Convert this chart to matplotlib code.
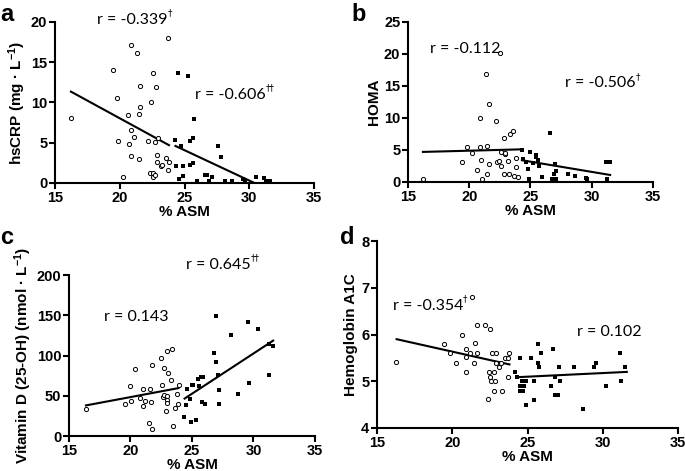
import matplotlib
matplotlib.use('Agg')
import matplotlib.pyplot as plt

plt.rcParams['font.family'] = ['Liberation Sans', 'DejaVu Sans']
plt.rcParams['mathtext.fontset'] = 'custom'
plt.rcParams['mathtext.rm'] = 'Liberation Sans:bold'
plt.rcParams['mathtext.it'] = 'Liberation Sans:bold'
plt.rcParams['mathtext.bf'] = 'Liberation Sans:bold'

# ---- panel a : hsCRP ----
a_circ_x = [16.23, 19.45, 19.8, 19.85, 20.27, 20.6, 20.7, 20.9, 20.9, 20.9, 21.07, 21.35,
            21.45, 21.5, 21.6, 21.6, 22.15, 22.3, 22.45, 22.6, 22.58, 22.6, 22.7, 22.76,
            22.8, 22.85, 22.9, 22.97, 23.15, 23.3, 23.56, 23.74, 23.74, 23.8]
a_circ_y = [8.1, 14.0, 10.6, 5.2, 0.75, 8.4, 4.8, 6.6, 17.1, 3.3, 5.7, 16.1,
            8.6, 3.0, 12.0, 9.4, 5.2, 1.3, 10.1, 13.7, 1.2, 0.7, 5.1, 1.0,
            11.9, 3.5, 2.6, 5.6, 2.1, 2.2, 3.1, 18.0, 1.6, 2.65]
a_sq_x = [24.49, 25.26, 24.3, 24.74, 25.77, 25.44, 25.67, 24.38, 24.92, 25.46, 25.67, 24.56,
          24.87, 25.95, 26.6, 26.75, 26.9, 27.1, 27.6, 27.78, 28.14, 28.68, 29.55, 29.65,
          30.55, 31.14, 31.32, 31.58]
a_sq_y = [13.66, 13.33, 5.34, 4.55, 7.95, 5.18, 5.55, 2.1, 2.1, 2.28, 2.5, 0.45,
          0.83, 0.3, 1.0, 1.0, 0.3, 0.75, 4.6, 3.27, 0.3, 0.3, 0.45, 0.3,
          0.7, 0.62, 0.3, 0.3]
a_fit_circ = ([16.23, 23.8], [11.35, 4.7])
a_fit_sq = ([24.3, 30.4], [4.6, 0.0])

# ---- panel b : HOMA ----
b_circ_x = [16.22, 19.44, 19.82, 20.25, 20.66, 20.85, 20.85, 20.93, 21.07, 21.34, 21.45, 21.48,
            21.6, 21.6, 22.16, 22.3, 22.45, 22.54, 22.62, 22.62, 22.84, 22.84, 22.9, 22.95,
            23.16, 23.25, 23.3, 23.57, 23.65, 23.8, 23.8, 23.98]
b_circ_y = [0.5, 3.2, 5.45, 4.6, 1.9, 10.06, 5.45, 3.37, 0.47, 16.8, 1.3, 5.6,
            12.2, 2.85, 9.6, 3.05, 3.3, 20.1, 4.7, 2.43, 6.9, 1.24, 4.4, 4.55,
            3.26, 1.24, 7.47, 8.04, 0.98, 3.78, 2.34, 0.72]
b_sq_x = [24.28, 24.93, 25.42, 25.48, 25.64, 24.39, 24.6, 25.2, 25.69, 24.83, 24.88, 25.92,
          26.57, 27.0, 27.11, 26.89, 26.73, 27.11, 28.09, 28.63, 29.5, 29.6, 31.2, 31.52, 31.25]
b_sq_y = [5.03, 4.72, 4.25, 3.89, 3.36, 3.58, 3.2, 2.96, 2.54, 2.02, 0.5, 0.72,
          7.63, 2.85, 1.65, 1.29, 0.47, 0.47, 1.18, 0.87, 0.62, 0.47, 3.05, 3.11, 0.47]
b_fit_circ = ([16.22, 24.2], [4.7, 5.1])
b_fit_sq = ([24.3, 31.5], [3.4, 1.1])

# ---- panel c : Vitamin D ----
c_circ_x = [16.38, 19.55, 19.96, 20.01, 20.37, 20.77, 20.99, 20.99, 21.18, 21.48, 21.59, 21.64,
            21.75, 21.75, 22.45, 22.59, 22.67, 22.72, 22.75, 22.89, 22.94, 22.94, 22.94, 23.02,
            23.0, 23.27, 23.37, 23.43, 23.62, 23.78, 23.86, 23.92]
c_circ_y = [33.6, 40.2, 62.2, 43.6, 83, 47.3, 58.5, 37.3, 43.6, 16.6, 58.5, 42.3,
            8.3, 88.4, 97.5, 63, 48.1, 51.5, 84.2, 31.5, 49.4, 44.8, 41, 78.4,
            105, 69.3, 108.7, 12.4, 35.3, 52.7, 39.4, 63.5]
c_sq_x = [24.59, 24.51, 24.38, 24.84, 24.95, 25.0, 25.05, 25.33, 25.49, 25.57, 25.76, 25.87,
          25.81, 26.03, 26.79, 26.92, 26.95, 27.14, 27.22, 27.22, 28.2, 28.77, 29.55, 29.63,
          30.34, 31.29, 31.29, 31.61]
c_sq_y = [58.1, 39, 23.2, 45.6, 17.4, 63.5, 63.9, 19.9, 70.5, 61.8, 73.9, 73.9,
          42.7, 40.2, 102.5, 92.1, 149.4, 75.5, 56.8, 40.2, 125.3, 52.3, 141.9, 65.6,
          133.2, 75.5, 113.7, 111.2]
c_fit_circ = ([16.38, 23.9], [38, 59.5])
c_fit_sq = ([24.4, 31.6], [46.5, 118.5])

# ---- panel d : Hemoglobin A1C ----
d_circ_x = [16.28, 19.45, 19.85, 20.27, 20.65, 20.89, 20.94, 20.89, 21.16, 21.47, 21.51, 21.33,
            21.64, 21.64, 22.15, 22.35, 22.42, 22.49, 22.51, 22.58, 22.66, 22.75, 22.8, 22.82,
            22.89, 22.93, 23.1, 23.24, 23.33, 23.53, 23.7, 23.77, 23.73]
d_circ_y = [5.41, 5.8, 5.6, 5.4, 6.0, 5.69, 5.51, 5.2, 5.6, 5.4, 5.81, 6.81,
            6.2, 5.6, 6.2, 4.61, 5.2, 6.11, 5.1, 5.0, 5.6, 4.8, 5.2, 5.0,
            5.6, 5.39, 5.31, 5.4, 4.8, 5.5, 5.5, 5.6, 5.1]
d_sq_x = [24.19, 24.3, 24.48, 24.48, 24.52, 24.68, 24.66, 24.75, 24.88, 24.92, 25.23, 25.41,
          25.45, 25.67, 25.72, 25.76, 25.9, 26.56, 26.71, 26.83, 26.83, 27.05, 27.1, 27.14,
          28.11, 28.67, 29.44, 29.53, 30.24, 31.15, 31.19, 31.48]
d_sq_y = [5.2, 5.1, 5.5, 4.9, 4.8, 4.8, 5.0, 4.9, 5.0, 4.5, 5.5, 5.0,
          4.6, 5.8, 5.4, 5.3, 5.6, 4.9, 5.7, 5.1, 4.7, 4.7, 5.3, 5.0,
          5.3, 4.4, 5.3, 5.4, 4.9, 5.6, 5.0, 5.3]
d_fit_circ = ([16.3, 23.8], [5.9, 5.36])
d_fit_sq = ([24.5, 31.6], [5.09, 5.2])

fig = plt.figure(figsize=(6.85, 4.71), dpi=100)


def panel(rect, cx, cy, sx, sy, fc, fs, ylim, yticks, ylabel, letter, lpos, texts):
    ax = fig.add_axes(rect)
    ax.scatter(cx, cy, s=9, facecolors='white', edgecolors='black', linewidths=0.7,
               marker='o', clip_on=False, zorder=3)
    ax.scatter(sx, sy, s=8, c='black', marker='s', linewidths=0, clip_on=False, zorder=3)
    ax.plot(fc[0], fc[1], color='black', lw=1.5, zorder=2)
    ax.plot(fs[0], fs[1], color='black', lw=1.5, zorder=2)
    ax.set_xlim(15, 35)
    ax.set_ylim(*ylim)
    ax.set_xticks([15, 20, 25, 30, 35])
    ax.set_yticks(yticks)
    for s in ['top', 'right']:
        ax.spines[s].set_visible(False)
    for s in ['left', 'bottom']:
        ax.spines[s].set_linewidth(1.5)
    ax.tick_params(width=1.5, length=4, labelsize=10.5, pad=1.5)
    for lab in ax.get_xticklabels() + ax.get_yticklabels():
        lab.set_fontweight('bold')
    ax.set_xlabel('% ASM', fontsize=11, fontweight='bold', labelpad=0.5)
    ax.set_ylabel(ylabel, fontsize=11, fontweight='bold', labelpad=2)
    fig.text(lpos[0], lpos[1], letter, fontsize=17, fontweight='bold', ha='left', va='top')
    for x, y, s, sup in texts:
        t = ax.text(x, y, s, fontsize=11.5, family=['Lato', 'DejaVu Sans'],
                    ha='left', va='center', clip_on=False)
        if sup:
            ax.annotate(sup, xy=(1, 1.0), xycoords=t, fontsize=6.5,
                        family=['DejaVu Sans'], ha='left', va='center',
                        annotation_clip=False)
    return ax


panel([0.0803, 0.6115, 0.3781, 0.3418], a_circ_x, a_circ_y, a_sq_x, a_sq_y,
      a_fit_circ, a_fit_sq, (0, 20), [0, 5, 10, 15, 20],
      r'hsCRP (mg · L$^{-1}$)', 'a', (0.0, 0.993),
      [(18.24, 20.25, 'r = -0.339', '†'), (25.81, 10.93, 'r = -0.606', '††')])
panel([0.5956, 0.6136, 0.3577, 0.3397], b_circ_x, b_circ_y, b_sq_x, b_sq_y,
      b_fit_circ, b_fit_sq, (0, 25), [0, 5, 10, 15, 20, 25],
      'HOMA', 'b', (0.513, 0.993),
      [(16.77, 20.8, 'r = -0.112', None), (27.8, 15.4, 'r = -0.506', '†')])
panel([0.1007, 0.0743, 0.3591, 0.3418], c_circ_x, c_circ_y, c_sq_x, c_sq_y,
      c_fit_circ, c_fit_sq, (0, 200), [0, 50, 100, 150, 200],
      r'Vitamin D (25-OH) (nmol · L$^{-1}$)', 'c', (0.0, 0.52),
      [(17.85, 147.6, 'r = 0.143', None), (24.5, 212.5, 'r = 0.645', '††')])
panel([0.5504, 0.0913, 0.4394, 0.397], d_circ_x, d_circ_y, d_sq_x, d_sq_y,
      d_fit_circ, d_fit_sq, (4, 8), [4, 5, 6, 7, 8],
      'Hemoglobin A1C', 'd', (0.497, 0.52),
      [(16.04, 6.61, 'r = -0.354', '†'), (28.3, 6.05, 'r = 0.102', None)])

fig.savefig('out.png', dpi=100)
